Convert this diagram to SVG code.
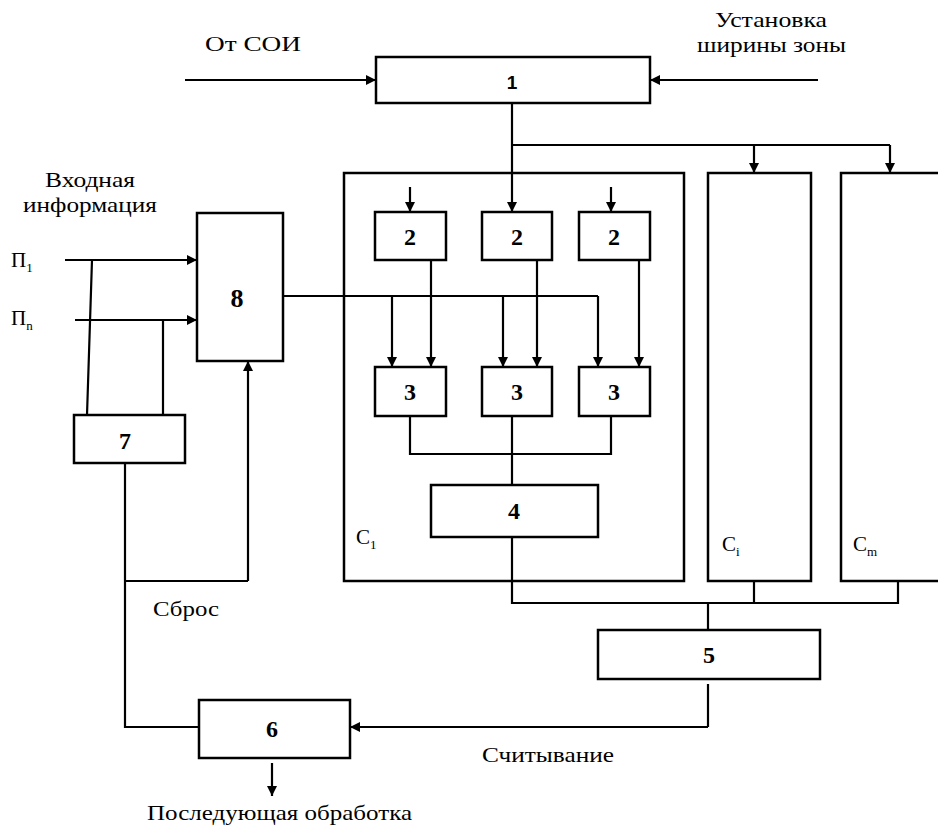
<svg xmlns="http://www.w3.org/2000/svg" width="938" height="826" viewBox="0 0 938 826">
<defs>
<marker id="ah" viewBox="0 0 10 10" refX="10" refY="5" markerWidth="10" markerHeight="10" markerUnits="userSpaceOnUse" orient="auto">
<path d="M0,0 L10,5 L0,10 z" fill="#000"/>
</marker>
<style>
rect{fill:#fff;stroke:#000;stroke-width:2.5}
.c path,.c line{fill:none;stroke:#000;stroke-width:2.2}
.a{marker-end:url(#ah)}
text{fill:#000;font-family:"Liberation Serif","Times New Roman",serif}
.n{font-size:24px;font-weight:bold;text-anchor:middle}
.l{font-size:21px}
.s{font-size:13px}
</style>
</defs>
<rect x="0" y="0" width="938" height="826" style="fill:#fff;stroke:none"/>
<g id="C1"><rect x="344" y="173" width="340" height="408"/><text class="l" x="356" y="544">C<tspan class="s" dy="5">1</tspan></text></g>
<g id="Ci"><rect x="708" y="173" width="103" height="408"/><text class="l" x="722" y="551">C<tspan class="s" dy="5">i</tspan></text></g>
<g id="Cm"><rect x="841" y="173" width="110" height="408"/><text class="l" x="853" y="551">C<tspan class="s" dy="5">m</tspan></text></g>

<g class="c" id="connectors">
<line class="a" x1="185" y1="80" x2="376" y2="80"/>
<line class="a" x1="818" y1="80" x2="650" y2="80"/>
<line class="a" x1="512" y1="103" x2="512" y2="212"/>
<path d="M512,145 H890"/>
<line class="a" x1="754" y1="145" x2="754" y2="173"/>
<line class="a" x1="890" y1="145" x2="890" y2="173"/>
<line class="a" x1="410" y1="187" x2="410" y2="212"/>
<line class="a" x1="611" y1="187" x2="611" y2="212"/>
<line class="a" x1="431" y1="260" x2="431" y2="367"/>
<line class="a" x1="537" y1="260" x2="537" y2="367"/>
<line class="a" x1="639" y1="260" x2="639" y2="367"/>
<path d="M283,296 H598"/>
<line class="a" x1="598" y1="296" x2="598" y2="367"/>
<line class="a" x1="392" y1="296" x2="392" y2="367"/>
<line class="a" x1="503" y1="296" x2="503" y2="367"/>
<path d="M410,416 V454 H611 V416 M512,416 V485"/>
<path d="M512,537 V603 H898 V581 M754,581 V603 M708,603 V630"/>
<path d="M708,684 V727"/>
<line class="a" x1="708" y1="727" x2="350" y2="727"/>
<line class="a" x1="65" y1="260" x2="197" y2="260"/>
<line class="a" x1="75" y1="320" x2="197" y2="320"/>
<path d="M92,260 L87,415 M163,320 V415"/>
<path d="M125,463 V727 H199"/>
<path d="M125,581 H248"/>
<line class="a" x1="248" y1="581" x2="248" y2="361"/>
<line class="a" x1="272" y1="763" x2="272" y2="796"/>
</g>

<g id="n1"><rect x="376" y="57" width="274" height="46"/><text class="n" x="512" y="89" style="font-family:'Liberation Sans',Arial,sans-serif;font-size:19px">1</text></g>
<g id="n2a"><rect x="375" y="212" width="71" height="48"/><text class="n" x="410" y="245">2</text></g>
<g id="n2b"><rect x="482" y="212" width="70" height="48"/><text class="n" x="517" y="245">2</text></g>
<g id="n2c"><rect x="579" y="212" width="71" height="48"/><text class="n" x="614" y="245">2</text></g>
<g id="n3a"><rect x="375" y="367" width="71" height="49"/><text class="n" x="410" y="400">3</text></g>
<g id="n3b"><rect x="482" y="367" width="70" height="49"/><text class="n" x="517" y="400">3</text></g>
<g id="n3c"><rect x="579" y="367" width="71" height="49"/><text class="n" x="614" y="400">3</text></g>
<g id="n4"><rect x="431" y="485" width="167" height="52"/><text class="n" x="514" y="519">4</text></g>
<g id="n5"><rect x="598" y="630" width="222" height="49"/><text class="n" x="709" y="663">5</text></g>
<g id="n6"><rect x="199" y="700" width="151" height="58"/><text class="n" x="272" y="737">6</text></g>
<g id="n7"><rect x="74" y="415" width="111" height="48"/><text class="n" x="125" y="449">7</text></g>
<g id="n8"><rect x="197" y="213" width="86" height="148"/><text class="n" x="237" y="307" style="font-size:26px">8</text></g>

<g id="labels">
<text class="l" x="205" y="51" textLength="96" lengthAdjust="spacingAndGlyphs">От  СОИ</text>
<text class="l" x="715" y="27" textLength="112" lengthAdjust="spacingAndGlyphs">Установка</text>
<text class="l" x="697" y="52" textLength="149" lengthAdjust="spacingAndGlyphs">ширины зоны</text>
<text class="l" x="45" y="187" textLength="90" lengthAdjust="spacingAndGlyphs">Входная</text>
<text class="l" x="23" y="212" textLength="134" lengthAdjust="spacingAndGlyphs">информация</text>
<text class="l" x="11" y="267">П<tspan class="s" dy="5">1</tspan></text>
<text class="l" x="11" y="325">П<tspan class="s" dy="5">n</tspan></text>
<text class="l" x="153" y="616" textLength="66" lengthAdjust="spacingAndGlyphs">Сброс</text>
<text class="l" x="482" y="762" textLength="132" lengthAdjust="spacingAndGlyphs">Считывание</text>
<text class="l" x="147" y="820" textLength="265" lengthAdjust="spacingAndGlyphs">Последующая обработка</text>
</g>
</svg>
